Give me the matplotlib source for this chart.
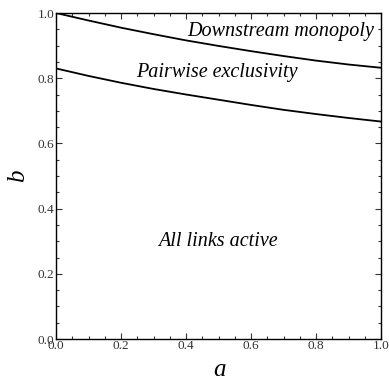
import matplotlib
matplotlib.use("Agg")
import matplotlib.pyplot as plt
from matplotlib.ticker import MultipleLocator

# Data
a_vals = [0.0, 0.1, 0.2, 0.3, 0.4, 0.5, 0.6, 0.7, 0.8, 0.9, 1.0]
monopoly_b = [1.000, 0.977, 0.955, 0.935, 0.916, 0.899, 0.883, 0.868, 0.854, 0.842, 0.832]
exclusivity_b = [0.830, 0.807, 0.786, 0.767, 0.750, 0.734, 0.718, 0.703, 0.690, 0.678, 0.667]
region_labels = ["Downstream monopoly", "Pairwise exclusivity", "All links active"]
tick_vals = [0.0, 0.2, 0.4, 0.6, 0.8, 1.0]
tick_labels = ["0.0", "0.2", "0.4", "0.6", "0.8", "1.0"]

plt.rcParams['font.family'] = ['Liberation Serif', 'DejaVu Serif']

fig = plt.figure(figsize=(3.89, 3.83), dpi=100)
ax = fig.add_axes([56/389, 1 - 339/383, 325/389, 326/383])

ax.plot(a_vals, monopoly_b, color='black', lw=1.3)
ax.plot(a_vals, exclusivity_b, color='black', lw=1.3)

ax.set_xlim(0, 1)
ax.set_ylim(0, 1)
ax.set_xticks(tick_vals)
ax.set_xticklabels(tick_labels)
ax.set_yticks(tick_vals)
ax.set_yticklabels(tick_labels)
ax.xaxis.set_minor_locator(MultipleLocator(0.05))
ax.yaxis.set_minor_locator(MultipleLocator(0.05))
ax.tick_params(which='both', direction='in', top=True, right=True, width=0.8, color='#333333')
ax.tick_params(which='major', length=4.5, labelsize=9.5, pad=1.0, labelcolor='#333333')
ax.tick_params(which='minor', length=2.5)
for s in ax.spines.values():
    s.set_linewidth(1.0)

ax.text(0.69, 0.943, region_labels[0], style='italic', fontsize=14.5, ha='center', va='center')
ax.text(0.496, 0.817, region_labels[1], style='italic', fontsize=14.5, ha='center', va='center')
ax.text(0.498, 0.298, region_labels[2], style='italic', fontsize=14.5, ha='center', va='center')

fig.text(219/389, 1 - 370/383, 'a', style='italic', fontsize=18, ha='center', va='center')
fig.text(18/389, 1 - 176/383, 'b', style='italic', fontsize=18, ha='center', va='center', rotation=90)

fig.savefig('out.png', dpi=100)
